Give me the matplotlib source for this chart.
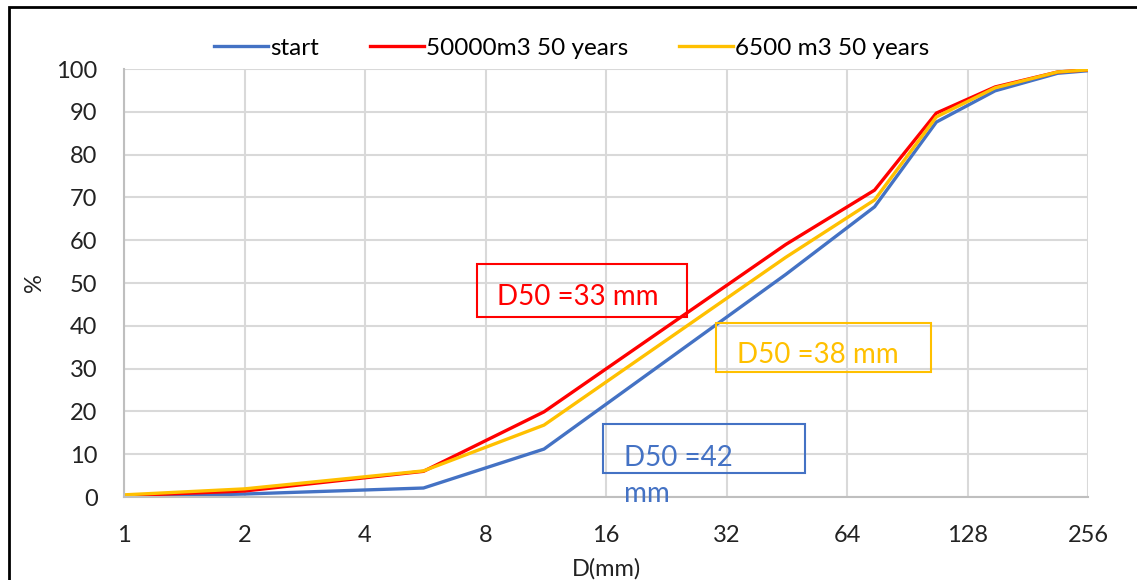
import numpy as np
import matplotlib
matplotlib.use("Agg")
import matplotlib.pyplot as plt
from matplotlib.patches import Rectangle
from matplotlib.ticker import FixedLocator, NullLocator

plt.rcParams["font.family"] = ["Lato", "DejaVu Sans"]

# grain size (mm) and cumulative passing (%)
sizes = [1, 2, 5.6, 11.2, 45, 75, 107, 150, 215, 256]
start = [0.0, 0.7, 2.1, 11.2, 52.0, 67.8, 87.6, 94.9, 99.0, 99.6]
v50000 = [0.3, 1.4, 6.0, 19.9, 59.0, 71.7, 89.7, 95.8, 99.3, 99.8]
v6500 = [0.5, 1.9, 6.1, 16.8, 56.0, 69.4, 88.8, 95.6, 99.3, 99.8]

xticks = [1, 2, 4, 8, 16, 32, 64, 128, 256]
yticks = list(range(0, 101, 10))

BLUE = "#4472C4"
RED = "#FF0000"
GOLD = "#FFC000"
GRID = "#D9D9D9"
TXT = "#222222"

W, H = 1137, 580
fig = plt.figure(figsize=(W / 100, H / 100), dpi=100)

def fx(px):
    return px / W

def fy(py):
    return 1 - py / H

ax = fig.add_axes([fx(124), fy(497), fx(1088) - fx(124), fy(69) - fy(497)])

ax.plot(sizes, start, color=BLUE, lw=2.4, label="start")
ax.plot(sizes, v50000, color=RED, lw=2.4, label="50000m3 50 years")
ax.plot(sizes, v6500, color=GOLD, lw=2.4, label="6500 m3 50 years")

ax.set_xscale("log", base=2)
ax.set_xlim(1, 256)
ax.set_ylim(0, 100)
ax.xaxis.set_major_locator(FixedLocator(xticks))
ax.xaxis.set_minor_locator(NullLocator())
ax.set_xticks(xticks)
ax.set_xticklabels([str(t) for t in xticks])
ax.set_yticks(yticks)
ax.tick_params(axis="both", length=0, labelsize=17, colors=TXT)
ax.tick_params(axis="x", pad=20)
ax.tick_params(axis="y", pad=19)
ax.grid(True, color=GRID, lw=1.5)
ax.set_axisbelow(True)
for s in ["top", "right"]:
    ax.spines[s].set_visible(False)
for s in ["left", "bottom"]:
    ax.spines[s].set_color("#BFBFBF")
    ax.spines[s].set_linewidth(1.5)

ax.set_xlabel("D(mm)", fontsize=17, color=TXT, labelpad=9)
ax.set_ylabel("%", fontsize=17, color=TXT, labelpad=8)

fig.legend(loc="center", bbox_to_anchor=(fx(572), fy(48)), ncol=3, frameon=False,
           fontsize=17.5, handlelength=2.2, handletextpad=0.1, columnspacing=2.1)

# annotation boxes (pixel positions from the reference)
def note(x0, y0, x1, y1, tx, ty, txt, color):
    fig.patches.append(Rectangle((fx(x0), fy(y1)), fx(x1) - fx(x0), fy(y0) - fy(y1),
                                 transform=fig.transFigure, fill=False, ec=color, lw=1.5))
    fig.text(fx(tx), fy(ty), txt, color=color, fontsize=20, ha="left", va="center",
             linespacing=1.45)

note(477, 264, 687, 317, 497, 297, "D50 =33 mm", RED)
note(716, 323, 931, 372, 737, 355, "D50 =38 mm", GOLD)
note(603, 424, 805, 473, 624, 476, "D50 =42\nmm", BLUE)

# outer frame
fig.patches.append(Rectangle((fx(9), fy(600)), fx(1200), fy(7) - fy(600),
                             transform=fig.transFigure, fill=False, ec="black", lw=2))

fig.savefig("out.png", dpi=100)
